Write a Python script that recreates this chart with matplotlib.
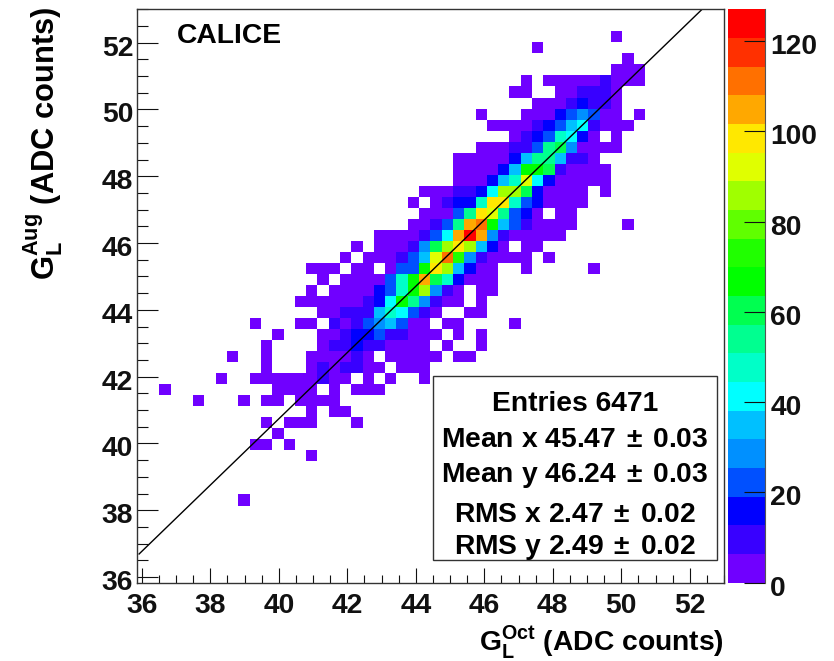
import numpy as np
import matplotlib
matplotlib.use("Agg")
import matplotlib.pyplot as plt
from matplotlib.colors import ListedColormap, BoundaryNorm
from matplotlib.lines import Line2D
from matplotlib.patches import Rectangle
from matplotlib.transforms import ScaledTranslation

plt.rcParams["font.family"] = ["Liberation Sans", "DejaVu Sans"]
plt.rcParams["font.weight"] = "bold"
plt.rcParams["mathtext.fontset"] = "custom"
plt.rcParams["mathtext.rm"] = "Liberation Sans"
plt.rcParams["mathtext.bf"] = "Liberation Sans:bold"

# ── data ──────────────────────────────────────────────────────────────
# histogram rows: y bin -> (first x bin, counts read from the colour bands)
rows = {
    7: (9, [3]),
    11: (15, [3]),
    12: (10, [3, 3, 0, 3]),
    13: (12, [3]),
    14: (11, [3, 0, 3, 3, 3, 0, 0, 0, 3]),
    15: (15, [3, 0, 3, 3]),
    16: (5, [3, 0, 0, 0, 3, 0, 3, 3, 0, 3, 3, 3, 3]),
    17: (2, [3, 0, 0, 0, 0, 0, 0, 0, 0, 0, 3, 3, 3, 3, 0, 3, 0, 3, 3, 3]),
    18: (7, [3, 0, 0, 3, 3, 3, 3, 3, 3, 10, 3, 3, 0, 3, 0, 3, 0, 0, 3]),
    19: (11, [3, 0, 0, 0, 3, 10, 3, 10, 10, 3, 3, 0, 3, 3, 3]),
    20: (8, [3, 0, 0, 3, 0, 0, 0, 3, 3, 3, 3, 10, 3, 0, 3, 3, 3, 3, 3, 0, 3, 3]),
    21: (11, [3, 0, 0, 0, 0, 3, 10, 10, 16, 10, 10, 3, 3, 3, 3, 0, 3, 0, 0, 3]),
    22: (12, [3, 0, 0, 0, 3, 3, 10, 16, 16, 22, 10, 10, 3, 3, 3, 0, 3, 0, 3]),
    23: (10, [3, 0, 0, 0, 3, 3, 0, 10, 3, 10, 22, 29, 35, 22, 3, 3, 0, 3, 3,
              0, 0, 0, 0, 3]),
    24: (16, [3, 3, 10, 10, 10, 35, 48, 41, 22, 10, 3, 0, 0, 3, 3]),
    25: (14, [3, 3, 3, 3, 3, 3, 10, 16, 41, 67, 54, 29, 10, 3, 3, 0, 3]),
    26: (15, [3, 0, 3, 3, 3, 3, 16, 22, 48, 67, 86, 29, 10, 3, 0, 3, 3]),
    27: (16, [3, 0, 3, 3, 3, 3, 22, 48, 67, 105, 60, 48, 16, 3, 3, 3]),
    28: (15, [3, 3, 3, 0, 3, 3, 0, 3, 22, 22, 67, 98, 86, 35, 16, 3, 3, 0, 0,
              3, 0, 0, 0, 0, 0, 3]),
    29: (18, [3, 0, 3, 3, 3, 10, 22, 35, 92, 111, 73, 29, 10, 3, 3, 3, 3, 0, 3]),
    30: (19, [3, 0, 3, 3, 3, 10, 29, 60, 86, 98, 86, 35, 16, 3, 0, 3, 3]),
    31: (21, [3, 3, 3, 3, 10, 22, 41, 105, 124, 105, 29, 10, 3, 3, 3, 3, 3]),
    32: (24, [3, 3, 10, 22, 54, 105, 111, 67, 35, 22, 10, 3, 3, 3, 3,
              0, 0, 0, 0, 3]),
    33: (25, [3, 3, 3, 22, 54, 98, 92, 54, 22, 16, 3, 0, 3, 3]),
    34: (24, [3, 0, 3, 10, 16, 16, 48, 98, 98, 48, 22, 16, 3, 3, 3, 3]),
    35: (25, [3, 3, 3, 10, 10, 16, 41, 86, 86, 60, 16, 3, 3, 3, 3, 0, 3]),
    36: (28, [3, 3, 3, 16, 35, 48, 92, 41, 16, 3, 3, 3, 3, 3]),
    37: (28, [3, 3, 3, 3, 16, 35, 67, 67, 60, 10, 3, 3, 3, 3]),
    38: (28, [3, 3, 3, 3, 3, 16, 35, 54, 54, 35, 10, 10, 3]),
    39: (30, [3, 3, 3, 10, 10, 22, 54, 60, 29, 3, 3, 3, 3]),
    40: (33, [3, 10, 16, 22, 48, 41, 16, 3, 0, 3]),
    41: (31, [3, 3, 3, 3, 10, 16, 22, 35, 41, 10, 3, 3, 3]),
    42: (30, [3, 0, 0, 0, 3, 3, 3, 16, 22, 29, 22, 3, 3, 0, 3]),
    43: (35, [3, 3, 3, 10, 16, 10, 10, 3]),
    44: (33, [3, 3, 0, 0, 3, 3, 10, 10, 10, 3]),
    45: (34, [3, 0, 3, 3, 3, 3, 3, 10, 3, 3, 3]),
    46: (42, [3, 3, 3]),
    47: (43, [3]),
    48: (35, [3]),
    49: (42, [3]),
}

band_colors = ["#7000ff", "#3800ff", "#0000ff", "#0050ff", "#0090ff",
               "#00c0ff", "#00ffff", "#00ffc8", "#00ff90", "#00ff50",
               "#00ff00", "#20ff00", "#60ff00", "#a0ff00", "#e0ff00",
               "#ffe800", "#ffa800", "#ff7000", "#ff3000", "#ff0000"]
z_max = 127

line_x = [35.92, 52.36]
line_y = [36.69, 53.0]

stats = ["Entries 6471",
         r"Mean x 45.47$\,\pm\,$0.03",
         r"Mean y 46.24$\,\pm\,$0.03",
         r"RMS x 2.47$\,\pm\,$0.02",
         r"RMS y 2.49$\,\pm\,$0.02"]
stats_y = [404, 440, 475, 515, 547]

W, H = 834, 661
FS = 20.3


def fx(px):
    return px / W


def fy(py):
    return 1 - py / H


# ── figure ────────────────────────────────────────────────────────────
fig = plt.figure(figsize=(W / 100, H / 100), dpi=100)
ax = fig.add_axes([fx(136.7), fy(582.7), fx(724 - 136.7), (582.7 - 9.3) / H])

n_bins = 52
x_edges = np.linspace(35.85, 53.0, n_bins + 1)
y_edges = np.linspace(35.83, 53.0, n_bins + 1)
counts = np.zeros((n_bins, n_bins))
for j, (start, vals) in rows.items():
    counts[j, start:start + len(vals)] = vals

levels = np.linspace(0, z_max, len(band_colors) + 1)
cmap = ListedColormap(band_colors)
norm = BoundaryNorm(levels, cmap.N)
mesh = ax.pcolormesh(x_edges, y_edges, np.ma.masked_equal(counts, 0),
                     cmap=cmap, norm=norm)
ax.plot(line_x, line_y, color="black", lw=1.0)
ax.set_xlim(35.85, 53.0)
ax.set_ylim(35.83, 53.0)

ax.set_xticks(np.arange(36, 53, 2))
ax.set_yticks(np.arange(36, 53, 2))
ax.set_xticks(np.arange(36, 53.01, 0.5), minor=True)
ax.set_yticks(np.arange(36, 53.01, 0.5), minor=True)
ax.tick_params(axis="x", which="major", direction="in", length=15 * 0.72,
               width=0.8, pad=7.3, labelsize=FS, colors="#111111")
ax.tick_params(axis="x", which="minor", direction="in", length=7.7 * 0.72,
               width=0.8, colors="#111111")
ax.tick_params(axis="y", which="major", direction="in", length=20.5 * 0.72,
               width=0.8, pad=2.5, labelsize=FS, colors="#111111")
ax.tick_params(axis="y", which="minor", direction="in", length=10.5 * 0.72,
               width=0.8, colors="#111111")
for s in ax.spines.values():
    s.set_linewidth(1.0)
    s.set_color("#333333")

# colour scale
cax = fig.add_axes([fx(728.3), fy(582.7), fx(765.3 - 728.3), (582.7 - 9.3) / H])
cb = fig.colorbar(mesh, cax=cax, ticks=np.arange(0, 121, 20))
cb.ax.tick_params(direction="in", length=21 * 0.72, width=0.8, pad=3.5,
                  labelsize=FS, colors="#111111")
cb.ax.minorticks_off()
cb.outline.set_visible(False)
fig.add_artist(Line2D([fx(765.3), fx(765.3)], [fy(582.7), fy(9.3)],
                      color="#555555", lw=0.8))

# labels sit a little low against their ticks in the original
down = ScaledTranslation(0, -3 / 100, fig.dpi_scale_trans)
for lbl in ax.get_yticklabels() + cb.ax.get_yticklabels():
    lbl.set_transform(lbl.get_transform() + down)

# stats box
fig.add_artist(Rectangle((fx(432.7), fy(560.3)), fx(717.3 - 432.7),
                         (560.3 - 376) / H, transform=fig.transFigure,
                         facecolor="white", edgecolor="#333333", lw=1.0,
                         zorder=5))
for txt, py in zip(stats, stats_y):
    fig.text(fx(575), fy(py), txt, fontsize=FS, ha="center", va="center",
             zorder=6)

fig.text(fx(176.5), fy(43), "CALICE", fontsize=FS, ha="left", va="baseline")
fig.text(fx(724), fy(650),
         r"$\mathbf{G}_{\mathbf{L}}^{\mathbf{Oct}}$ (ADC counts)",
         fontsize=FS, ha="right", va="baseline")
fig.text(fx(43), fy(7),
         r"$\mathbf{G}_{\mathbf{L}}^{\mathbf{Aug}}$ (ADC counts)",
         fontsize=22.2, ha="center", va="top", rotation=90)

fig.savefig("out.png", dpi=100)
